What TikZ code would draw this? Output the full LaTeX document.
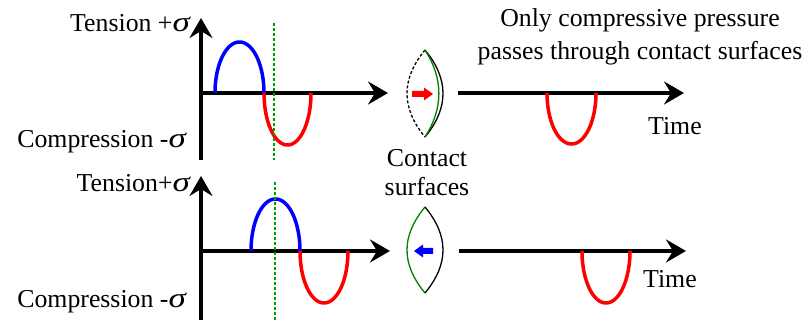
\documentclass[tikz,border=0pt]{standalone}
\usepackage{fontspec}
\setmainfont{Liberation Serif}
\usetikzlibrary{arrows.meta}
\tikzset{
  axisline/.style={line width=3.5pt, -{Stealth[length=20pt,width=23pt,inset=7pt]}},
  vaxis/.style={line width=3.5pt},
  tens/.style={line width=3.5pt, draw={rgb,255:red,0;green,0;blue,255}},
  comp/.style={line width=3.5pt, draw={rgb,255:red,255;green,0;blue,0}},
  guide/.style={line width=1.2pt, draw={rgb,255:red,0;green,160;blue,0}, dash pattern=on 3pt off 2pt},
  lens/.style={line width=1.3pt, black},
  lensg/.style={line width=1.3pt, draw={rgb,255:red,0;green,128;blue,0}},
  lbl/.style={inner sep=0pt, font=\fontsize{25.8}{30}\selectfont},
}
\newcommand{\sig}{{\fontsize{28}{30}\selectfont\itshape\scalebox{1.25}[1]{σ}}}
\begin{document}
\begin{tikzpicture}[x=1pt,y=-1pt]
\useasboundingbox (0,0) rectangle (806,320);
% ---------- top panel ----------
\coordinate (t0) at (201,93);
\coordinate (tx) at (388,93);
\coordinate (ty) at (201,18);
\coordinate (tb) at (201,160);
\draw[vaxis] (tb) -- (t0);
\draw[axisline] (t0) -- (ty);
\draw[axisline] (t0) -- (tx);
\draw[tens] plot[domain=0:180, samples=50, smooth] ({239.5-24.5*cos(\x)},{93-51*sin(\x)});
\draw[comp] plot[domain=0:180, samples=50, smooth] ({287.5-23.5*cos(\x)},{93+52*sin(\x)});
\coordinate (tg1) at (274,23);
\coordinate (tg2) at (274,160);
\draw[guide] (tg1) -- (tg2);
\node[lbl, anchor=base east] (tten) at (190,32) {Tension +\sig};
\node[lbl, anchor=base east] (tcom) at (186,148) {Compression -\sig};
% ---------- bottom panel ----------
\coordinate (b0) at (201,251);
\coordinate (bx) at (390,251);
\coordinate (by) at (201,176);
\coordinate (bb) at (201,320);
\draw[vaxis] (bb) -- (b0);
\draw[axisline] (b0) -- (by);
\draw[axisline] (b0) -- (bx);
\draw[tens] plot[domain=0:180, samples=50, smooth] ({275.5-24.5*cos(\x)},{251-52*sin(\x)});
\draw[comp] plot[domain=0:180, samples=50, smooth] ({324-24*cos(\x)},{251+52*sin(\x)});
\coordinate (bg1) at (275,182);
\coordinate (bg2) at (275,320);
\draw[guide] (bg1) -- (bg2);
\node[lbl, anchor=base east] (bten) at (190,192) {Tension+\sig};
\node[lbl, anchor=base east] (bcom) at (186,308) {Compression -\sig};
% ---------- top lens ----------
\coordinate (lt1) at (425,50);
\coordinate (lt2) at (425,137);
\draw[lens, dash pattern=on 3pt off 2pt] (lt1) .. controls (401,79) and (401,108) .. (lt2);
\draw[lens] (lt1) .. controls (449,79) and (449,108) .. (lt2);
\draw[lensg] (lt1) .. controls (443.5,79) and (443.5,108) .. (lt2);
\fill[red] (412,91) -- (424,91) -- (424,87.5) -- (433,94) -- (424,100.5) -- (424,97) -- (412,97) -- cycle;
% ---------- bottom lens ----------
\coordinate (lb1) at (425,207);
\coordinate (lb2) at (425,293);
\draw[lensg] (lb1) .. controls (401,236) and (401,264) .. (lb2);
\draw[lens] (lb1) .. controls (449,236) and (449,264) .. (lb2);
\fill[blue] (433,248) -- (423,248) -- (423,244.5) -- (414,251) -- (423,257.5) -- (423,254) -- (433,254) -- cycle;
\node[lbl, anchor=base] (cs1) at (427,167) {Contact};
\node[lbl, anchor=base] (cs2) at (427,196) {surfaces};
% ---------- right top ----------
\coordinate (rt0) at (458,93);
\coordinate (rtx) at (684,93);
\draw[axisline] (rt0) -- (rtx);
\draw[comp] plot[domain=0:180, samples=50, smooth] ({571.5-24.5*cos(\x)},{93+51*sin(\x)});
\node[lbl, anchor=base west] (rtime) at (648,135) {Time};
\node[lbl, anchor=base] (msg1) at (640,27) {Only compressive pressure};
\node[lbl, anchor=base] (msg2) at (640,60) {passes through contact surfaces};
% ---------- right bottom ----------
\coordinate (rb0) at (459,251);
\coordinate (rbx) at (686,251);
\draw[axisline] (rb0) -- (rbx);
\draw[comp] plot[domain=0:180, samples=50, smooth] ({606-24*cos(\x)},{251+52*sin(\x)});
\node[lbl, anchor=base west] (rbtime) at (643,288) {Time};
\end{tikzpicture}
\end{document}
